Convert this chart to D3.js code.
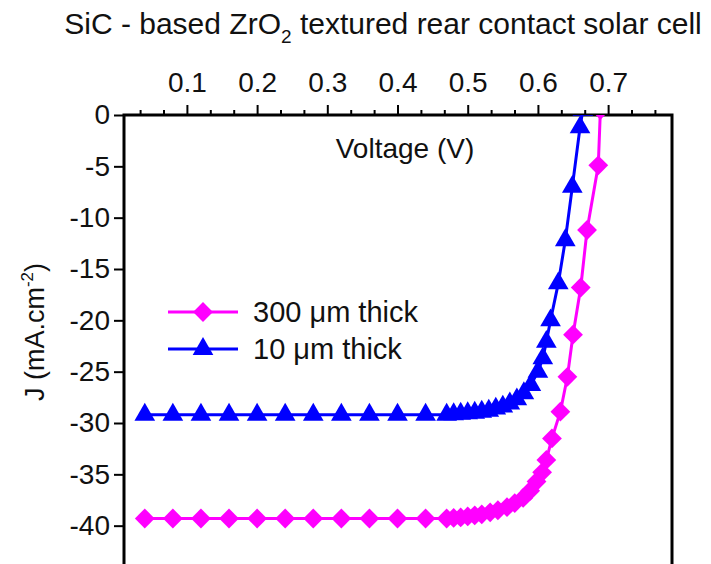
<!DOCTYPE html>
<html>
<head>
<meta charset="utf-8">
<script src="https://cdn.jsdelivr.net/npm/d3@7"></script>
<style>
  body { margin: 0; background: #fff; }
  svg text { font-family: "Liberation Sans", Arial, sans-serif; fill: #111; }
  .axis path, .axis line { stroke: #000; }
</style>
</head>
<body>
<svg id="chart" width="711" height="564"></svg>
<script>
// J-V data (V in volts, J in mA/cm2)
var thickV = [0.04, 0.08, 0.12, 0.16, 0.20, 0.24, 0.28, 0.32, 0.36, 0.40, 0.44,
    0.47, 0.48, 0.49, 0.50, 0.51, 0.52, 0.532, 0.543, 0.556, 0.567, 0.579, 0.589,
    0.598, 0.606, 0.612, 0.620, 0.632, 0.642, 0.650, 0.661, 0.670, 0.686, 0.689];
var thickJ = [-39.3, -39.3, -39.3, -39.3, -39.3, -39.3, -39.3, -39.3, -39.3, -39.3, -39.3,
    -39.3, -39.25, -39.2, -39.1, -39.0, -38.9, -38.7, -38.5, -38.2, -37.8, -37.3, -36.6,
    -35.7, -34.8, -33.6, -31.5, -28.9, -25.5, -21.4, -16.8, -11.2, -4.9, 0.5];
var thinV = [0.04, 0.08, 0.12, 0.16, 0.20, 0.24, 0.28, 0.32, 0.36, 0.40, 0.44,
    0.47, 0.48, 0.49, 0.50, 0.51, 0.52, 0.53, 0.54, 0.55, 0.56, 0.57, 0.58, 0.59,
    0.60, 0.607, 0.612, 0.618, 0.629, 0.639, 0.649, 0.660, 0.664];
var thinJ = [-29.2, -29.2, -29.2, -29.2, -29.2, -29.2, -29.2, -29.2, -29.2, -29.2, -29.2,
    -29.2, -29.15, -29.1, -29.05, -29.0, -28.9, -28.8, -28.6, -28.4, -28.1, -27.7, -27.1, -26.3,
    -25.0, -23.7, -22.1, -20.0, -16.4, -12.2, -7.0, -1.2, 0.5];

var xTicks = [0.1, 0.2, 0.3, 0.4, 0.5, 0.6, 0.7];
var yTicks = [0, -5, -10, -15, -20, -25, -30, -35, -40];
var seriesNames = ["300 \u03bcm thick", "10 \u03bcm thick"];
var seriesColors = ["#ff00ff", "#0000ff"];

var svg = d3.select("#chart");
var plotLeft = 124, plotRight = 672, plotTop = 115, plotBottom = 577;

var x = d3.scaleLinear().domain([0.0104, 0.791]).range([plotLeft, plotRight]);
var y = d3.scaleLinear().domain([0, -45]).range([plotTop, plotBottom]);

// minor ticks: thirds on x, quarters on y
var xMinor = d3.range(1, 24).map(function (i) { return i / 30; }).filter(function (v) { return v < 0.79 && Math.round(v * 30) % 3 != 0; });
var yMinor = d3.range(1, 37).map(function (i) { return -i * 1.25; }).filter(function (v) { return Math.round(v * 4) % 5 != 0; });

// title
svg.append("text")
    .attr("x", 383).attr("y", 34)
    .attr("text-anchor", "middle")
    .style("font-size", "30px")
    .html("SiC - based ZrO<tspan dy='9' style='font-size:19px'>2</tspan><tspan dy='-9'> textured rear contact solar cell</tspan>");

// top axis
svg.append("g").attr("class", "axis")
    .attr("transform", "translate(0," + plotTop + ")")
    .call(d3.axisTop(x).tickValues(xMinor).tickSize(5).tickFormat(""))
    .call(function (g) { g.select(".domain").remove(); g.selectAll("line").attr("stroke-width", 2); });
svg.append("g").attr("class", "axis")
    .attr("transform", "translate(0," + plotTop + ")")
    .call(d3.axisTop(x).tickValues(xTicks).tickSize(10).tickPadding(13).tickFormat(d3.format(".1f")))
    .call(function (g) {
        g.select(".domain").remove();
        g.selectAll("line").attr("stroke-width", 2);
        g.selectAll("text").style("font-size", "28px").attr("fill", "#111");
    });

// left axis (plain hyphen for the minus sign, as in the original)
svg.append("g").attr("class", "axis")
    .attr("transform", "translate(" + plotLeft + ",0)")
    .call(d3.axisLeft(y).tickValues(yMinor).tickSize(5).tickFormat(""))
    .call(function (g) { g.select(".domain").remove(); g.selectAll("line").attr("stroke-width", 2); });
svg.append("g").attr("class", "axis")
    .attr("transform", "translate(" + plotLeft + ",0)")
    .call(d3.axisLeft(y).tickValues(yTicks).tickSize(10).tickPadding(4).tickFormat(function (d) { return String(d); }))
    .call(function (g) {
        g.select(".domain").remove();
        g.selectAll("line").attr("stroke-width", 2);
        g.selectAll("text").style("font-size", "28px").attr("fill", "#111");
    });

// frame
svg.append("rect")
    .attr("x", plotLeft).attr("y", plotTop)
    .attr("width", plotRight - plotLeft).attr("height", plotBottom - plotTop)
    .attr("fill", "none").attr("stroke", "#000").attr("stroke-width", 3);

// axis titles
svg.append("text")
    .attr("x", 405).attr("y", 158)
    .attr("text-anchor", "middle")
    .style("font-size", "28px")
    .text("Voltage (V)");
svg.append("text")
    .attr("transform", "translate(44,332) rotate(-90)")
    .attr("text-anchor", "middle")
    .style("font-size", "27px")
    .html("J (mA.cm<tspan dy='-11' style='font-size:17px'>-2</tspan><tspan dy='11'>)</tspan>");

// plot area
svg.append("clipPath").attr("id", "plotclip")
    .append("rect").attr("x", plotLeft).attr("y", plotTop).attr("width", plotRight - plotLeft).attr("height", plotBottom - plotTop);
var plot = svg.append("g").attr("clip-path", "url(#plotclip)");

var line = d3.line().x(function (d) { return x(d[0]); }).y(function (d) { return y(d[1]); });
var diamond = d3.symbol().type(d3.symbolDiamond2).size(250);
var triangle = d3.symbol().type(d3.symbolTriangle).size(185);

var series = [
    { pts: d3.zip(thickV, thickJ), color: seriesColors[0], sym: diamond },
    { pts: d3.zip(thinV, thinJ), color: seriesColors[1], sym: triangle }
];

series.forEach(function (s) {
    plot.append("path")
        .datum(s.pts)
        .attr("d", line)
        .attr("fill", "none")
        .attr("stroke", s.color)
        .attr("stroke-width", 3);
    plot.selectAll(null)
        .data(s.pts)
        .enter().append("path")
        .attr("d", s.sym)
        .attr("transform", function (d) { return "translate(" + x(d[0]) + "," + y(d[1]) + ")"; })
        .attr("fill", s.color);
});

// legend
var legend = svg.append("g");
var legendRows = legend.selectAll("g").data(series).enter().append("g")
    .attr("transform", function (d, i) { return "translate(168," + (312 + i * 37) + ")"; });
legendRows.append("line")
    .attr("x1", 0).attr("x2", 70)
    .attr("stroke", function (d) { return d.color; })
    .attr("stroke-width", 3);
legendRows.append("path")
    .attr("d", function (d) { return d.sym(); })
    .attr("transform", "translate(35,0)")
    .attr("fill", function (d) { return d.color; });
legendRows.append("text")
    .attr("x", 85).attr("y", 10)
    .style("font-size", "29px")
    .text(function (d, i) { return seriesNames[i]; });
</script>
</body>
</html>
